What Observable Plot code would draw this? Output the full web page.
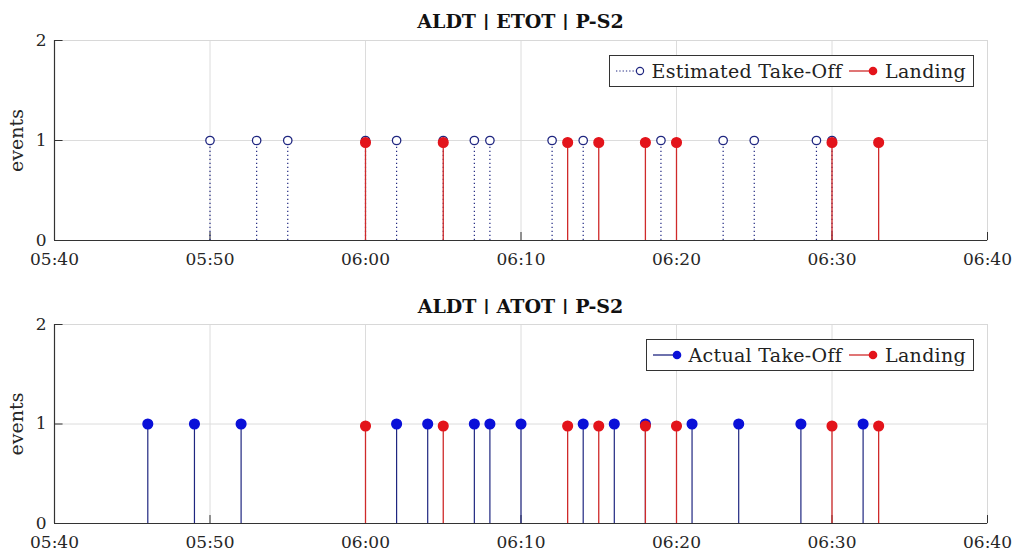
<!DOCTYPE html>
<html><head><meta charset="utf-8">
<script src="https://cdn.jsdelivr.net/npm/d3@7"></script>
<script src="https://cdn.jsdelivr.net/npm/@observablehq/plot@0.6"></script>
<style>
body{margin:0;background:#fff;font-family:"DejaVu Serif",serif;color:#262626;}
#wrap{position:relative;width:1020px;height:559px;overflow:hidden;}
.title{position:absolute;left:54px;width:933px;text-align:center;font-weight:bold;font-size:19px;color:#111;line-height:22px;}
.panel{position:absolute;left:0;}
.legend{position:absolute;background:#fff;border:1px solid #333;font-size:19px;letter-spacing:0.3px;display:flex;align-items:center;height:32px;padding:0 4px 0 2px;white-space:nowrap;color:#222;box-sizing:border-box;}
.legend svg{display:block;}
.legend span{margin-right:3px;}
</style></head>
<body><div id="wrap"></div>
<script>
// ---- data ----
const xTicks = ["05:40","05:50","06:00","06:10","06:20","06:30","06:40"];
const yTicks = [0, 1, 2];
const titles = ["ALDT | ETOT | P-S2", "ALDT | ATOT | P-S2"];
const estimatedTakeOff = ["05:50","05:53","05:55","06:00","06:02","06:05","06:07","06:08","06:12","06:14","06:19","06:23","06:25","06:29","06:30"];
const actualTakeOff = ["05:46","05:49","05:52","06:02","06:04","06:07","06:08","06:10","06:14","06:16","06:18","06:21","06:24","06:28","06:32"];
const landing = ["06:00","06:05","06:13","06:15","06:18","06:20","06:30","06:33"];
const takeOffValue = 1.0;
const landingValue = 0.98;
const legendLabels = [["Estimated Take-Off","Landing"],["Actual Take-Off","Landing"]];
const yLabel = "events";

// ---- helpers ----
const toMin = s => { const [h,m] = s.split(":").map(Number); return h*60+m; };
const fmt = m => String(Math.floor(m/60)).padStart(2,"0")+":"+String(m%60).padStart(2,"0");
const xt = xTicks.map(toMin);
const xDom = [xt[0], xt[xt.length-1]];

const BLUE_LINE = "#1f2680", BLUE_DOT = "#0a10d8", RED = "#e3141b", RED_LINE = "#cf2a2a";

function panel(toTimes, open, height, mTop, mBottom) {
  const to = toTimes.map(t => ({x: toMin(t), y: takeOffValue}));
  const ld = landing.map(t => ({x: toMin(t), y: landingValue}));
  return Plot.plot({
    width: 1020, height, marginLeft: 54, marginRight: 33, marginTop: mTop, marginBottom: mBottom,
    style: {fontFamily: "DejaVu Serif", fontSize: "17px", color: "#262626", background: "#fff"},
    x: {domain: xDom, ticks: xt, tickFormat: fmt, tickSize: 0, tickPadding: 12, label: null},
    y: {domain: [0, 2], ticks: yTicks, tickFormat: d => String(d), tickSize: 0, tickPadding: 8, label: null},
    marks: [
      Plot.gridX(xt, {stroke: "#dcdcdc", strokeOpacity: 1}),
      Plot.gridY(yTicks, {stroke: "#dcdcdc", strokeOpacity: 1}),
      Plot.frame({stroke: "#d8d8d8"}),
      Plot.ruleY([0], {stroke: "#333", strokeWidth: 1.2}),
      Plot.ruleX([xDom[0]], {stroke: "#333", strokeWidth: 1.2}),
      Plot.ruleX(xt, {y1: 0, y2: 0.08, stroke: "#333"}),
      Plot.ruleY(yTicks, {x1: xDom[0], x2: xDom[0] + 0.55, stroke: "#333"}),
      Plot.ruleX(to, {x: "x", y1: 0, y2: "y", stroke: BLUE_LINE, strokeWidth: 1.2,
        strokeDasharray: open ? "1.3,2.7" : null}),
      open
        ? Plot.dot(to, {x: "x", y: "y", r: 4.2, stroke: BLUE_LINE, strokeWidth: 1.3, fill: "#fff"})
        : Plot.dot(to, {x: "x", y: "y", r: 4.8, fill: BLUE_DOT, stroke: BLUE_DOT}),
      Plot.ruleX(ld, {x: "x", y1: 0, y2: "y", stroke: RED_LINE, strokeWidth: 1.3}),
      Plot.dot(ld, {x: "x", y: "y", r: 4.8, fill: RED, stroke: RED}),
      Plot.text([yLabel], {frameAnchor: "left", textAnchor: "middle", lineAnchor: "middle",
        rotate: -90, dx: -38, fontSize: 19, fill: "#262626"})
    ]
  });
}

function legend(labels, open, top) {
  const d = document.createElement("div");
  d.className = "legend";
  d.style.top = top + "px";
  d.style.right = "46px";
  const sym1 = open
    ? `<svg width="40" height="20"><line x1="4" y1="10" x2="27" y2="10" stroke="${BLUE_LINE}" stroke-width="1" stroke-dasharray="1.3,2"/><circle cx="28" cy="10" r="3.6" fill="#fff" stroke="${BLUE_LINE}" stroke-width="1.2"/></svg>`
    : `<svg width="40" height="20"><line x1="4" y1="10" x2="28" y2="10" stroke="${BLUE_LINE}" stroke-width="1.3"/><circle cx="28" cy="10" r="4.3" fill="${BLUE_DOT}"/></svg>`;
  const sym2 = `<svg width="40" height="20"><line x1="4" y1="10" x2="28" y2="10" stroke="${RED_LINE}" stroke-width="1.3"/><circle cx="28" cy="10" r="4.3" fill="${RED}"/></svg>`;
  d.innerHTML = sym1 + `<span>${labels[0]}</span>` + sym2 + `<span>${labels[1]}</span>`;
  return d;
}

const wrap = document.getElementById("wrap");
function addTitle(text, top) {
  const t = document.createElement("div");
  t.className = "title"; t.style.top = top + "px"; t.textContent = text;
  wrap.appendChild(t);
}
addTitle(titles[0], 10);
const p1 = panel(estimatedTakeOff, true, 250, 10, 40);
p1.classList.add("panel"); p1.style.top = "30px"; wrap.appendChild(p1);
wrap.appendChild(legend(legendLabels[0], true, 55));

addTitle(titles[1], 295);
const p2 = panel(actualTakeOff, false, 245, 10, 36);
p2.classList.add("panel"); p2.style.top = "314px"; wrap.appendChild(p2);
wrap.appendChild(legend(legendLabels[1], false, 339));
</script></body></html>
